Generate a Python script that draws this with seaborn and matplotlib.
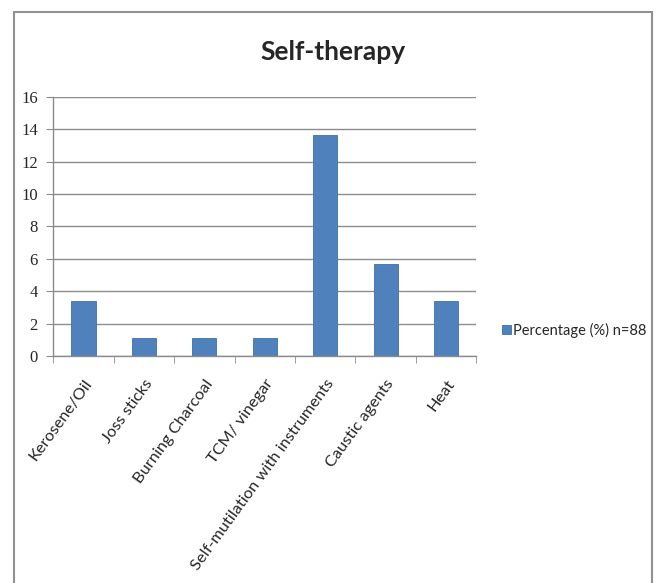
import matplotlib.pyplot as plt
import seaborn as sns
import pandas as pd
from matplotlib.lines import Line2D

categories = ["Kerosene/Oil", "Joss sticks", "Burning Charcoal", "TCM/ vinegar",
              "Self-mutilation with instruments", "Caustic agents", "Heat"]
percentages = [3.41, 1.14, 1.14, 1.14, 13.64, 5.68, 3.41]
series_name = "Percentage (%) n=88"
y_ticks = [0, 2, 4, 6, 8, 10, 12, 14, 16]

sns.set_style("white")
plt.rcParams["font.family"] = ["Lato", "DejaVu Sans"]

df = pd.DataFrame({"category": categories, "value": percentages, "series": series_name})

fig = plt.figure(figsize=(6.57, 5.83), dpi=100)
ax = fig.add_axes([0.081, 0.389, 0.644, 0.445])

sns.barplot(data=df, x="category", y="value", hue="series",
            palette=["#4F81BD"], width=0.4, saturation=1,
            edgecolor="#3f6fa8", linewidth=0.6, ax=ax)

ax.set_ylim(0, 16)
ax.set_xlim(-0.5, len(categories) - 0.5)
ax.set_yticks(y_ticks)
ax.set_yticklabels([str(t) for t in y_ticks], fontfamily="Liberation Serif", fontsize=12)
ax.grid(axis="y", color="#8c8c8c", linewidth=1)
ax.set_axisbelow(True)
for s in ["top", "right"]:
    ax.spines[s].set_visible(False)
for s in ["left", "bottom"]:
    ax.spines[s].set_color("#8c8c8c")
    ax.spines[s].set_linewidth(1)

# category ticks sit between the bars like in excel
ax.set_xticks(range(len(categories)))
ax.set_xticklabels(categories, rotation=54, ha="right", rotation_mode="anchor", fontsize=11.8)
ax.tick_params(axis="x", length=0, pad=15)
ax.set_xticks([i - 0.5 for i in range(len(categories) + 1)], minor=True)
ax.tick_params(axis="x", which="minor", length=5, direction="out", color="#8c8c8c", bottom=True)
ax.tick_params(axis="y", length=5, direction="out", color="#8c8c8c", left=True, pad=6)
ax.set_xlabel("")
ax.set_ylabel("")

ax.legend(loc="center left", bbox_to_anchor=(1.03, 0.1), frameon=False,
          fontsize=10.5, handlelength=0.6, handleheight=0.6, handletextpad=0.15)

fig.text(0.507, 0.91, "Self-therapy", ha="center", va="center", fontsize=19, fontweight="bold")

# outer chart frame
frame_kw = dict(color="#909090", linewidth=1.5, transform=fig.transFigure)
fig.add_artist(Line2D([0.021, 0.021], [0.0, 0.979], **frame_kw))
fig.add_artist(Line2D([0.021, 0.993], [0.979, 0.979], **frame_kw))
fig.add_artist(Line2D([0.993, 0.993], [0.0, 0.979], **frame_kw))

fig.savefig("out.png", dpi=100)
